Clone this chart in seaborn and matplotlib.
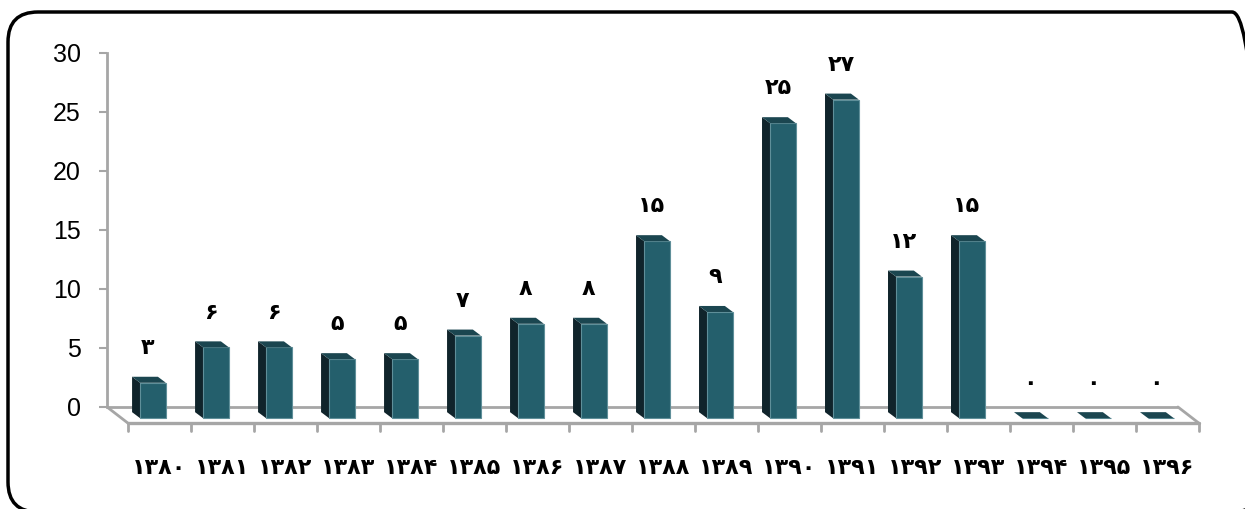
import matplotlib
matplotlib.use("Agg")
import matplotlib.pyplot as plt
from matplotlib.patches import Polygon, FancyBboxPatch
import seaborn as sns
import pandas as pd

years = ["۱۳۸۰", "۱۳۸۱", "۱۳۸۲", "۱۳۸۳", "۱۳۸۴", "۱۳۸۵", "۱۳۸۶", "۱۳۸۷", "۱۳۸۸",
         "۱۳۸۹", "۱۳۹۰", "۱۳۹۱", "۱۳۹۲", "۱۳۹۳", "۱۳۹۴", "۱۳۹۵", "۱۳۹۶"]
counts = [3, 6, 6, 5, 5, 7, 8, 8, 15, 9, 25, 27, 12, 15, 0, 0, 0]
value_labels = ["۳", "۶", "۶", "۵", "۵", "۷", "۸", "۸", "۱۵", "۹", "۲۵", "۲۷", "۱۲", "۱۵", "۰", "۰", "۰"]
yticks = [0, 5, 10, 15, 20, 25, 30]

sns.set_theme(style="white")
plt.rcParams['font.family'] = ['DejaVu Sans']

W, H = 1245, 509
fig = plt.figure(figsize=(W / 100, H / 100), dpi=100)
ax = fig.add_axes([107 / W, 69 / H, 1098 / W, 387 / H])

df = pd.DataFrame({"year": years, "count": counts})
FRONT = "#245f6c"
SIDE = "#10242b"
TOP = "#1b4650"
sns.barplot(data=df, x="year", y="count", order=years, color=FRONT, width=0.41,
            saturation=1, ax=ax, linewidth=0.8, edgecolor="#5f8f99", zorder=3)

ax.set_xlim(-0.73, 16.7)
ax.set_ylim(-2.8, 30)

# 3D floor
GRAY = "#a6a6a6"
floor_v = -1.36
ax.plot([-0.73, 16.27], [0, 0], color=GRAY, lw=2, zorder=1, solid_capstyle="butt")
ax.plot([-0.73, -0.4], [0, floor_v], color=GRAY, lw=2, zorder=1)
ax.plot([-0.4, 16.6], [floor_v, floor_v], color=GRAY, lw=2.4, zorder=1)
ax.plot([16.6, 16.27], [floor_v, 0], color=GRAY, lw=2, zorder=1)
for i in range(len(years) + 1):
    ax.plot([i - 0.4, i - 0.4], [floor_v, -2.05], color=GRAY, lw=2, zorder=1)

# 3D bar faces
base = -0.95
du, dv = -0.127, 0.51
for p in ax.patches:
    p.set_y(base)
    x0 = p.get_x()
    x1 = x0 + p.get_width()
    y0 = base
    y1 = base + p.get_height()
    side = Polygon([(x0, y0), (x0, y1), (x0 + du, y1 + dv), (x0 + du, y0 + dv)],
                   closed=True, facecolor=SIDE, edgecolor="none", zorder=2.9)
    top = Polygon([(x0, y1), (x1, y1), (x1 + du, y1 + dv), (x0 + du, y1 + dv)],
                  closed=True, facecolor=TOP, edgecolor="none", zorder=3.1)
    ax.add_patch(side)
    ax.add_patch(top)

for i, (v, lab) in enumerate(zip(counts, value_labels)):
    ax.annotate(lab, xy=(i - 0.08, base + v), xytext=(0, 25), textcoords="offset points",
                ha="center", va="center", fontsize=16, fontweight="bold", color="black")

# axes styling
for s in ["top", "right", "bottom"]:
    ax.spines[s].set_visible(False)
ax.spines["left"].set_color(GRAY)
ax.spines["left"].set_linewidth(2)
ax.spines["left"].set_bounds(0, 30)
ax.set_yticks(yticks)
ax.set_yticklabels([str(t) for t in yticks], fontsize=18, family="Liberation Sans", color="black")
ax.tick_params(axis="y", length=6, width=1.5, color=GRAY, direction="out", pad=13, left=True)
ax.set_xticks([i + 0.1 for i in range(len(years))])
ax.set_xticklabels(years, fontsize=16, fontweight="bold", color="black")
ax.tick_params(axis="x", length=0, pad=13)
ax.set_xlabel("")
ax.set_ylabel("")
ax.grid(False)

# rounded border
border = FancyBboxPatch((8, -3), 1254, 500, boxstyle="round,pad=0,rounding_size=30",
                        transform=None, facecolor="none", edgecolor="black", lw=2.5,
                        figure=fig)
fig.patches.append(border)

fig.savefig("out.png", dpi=100)
